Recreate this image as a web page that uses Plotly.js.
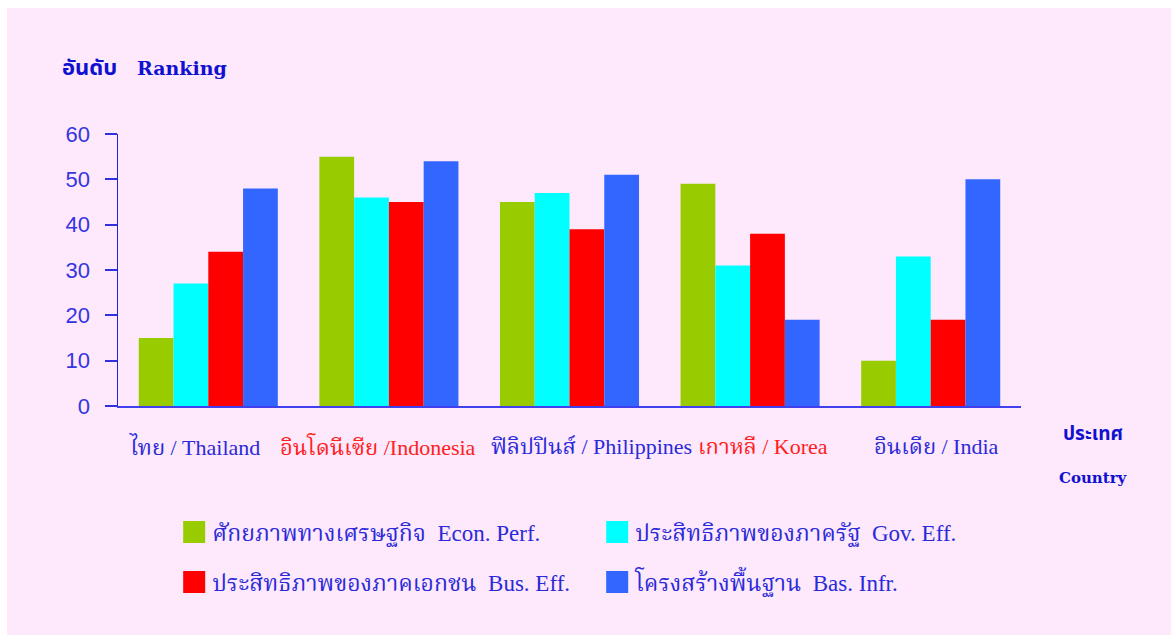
<!DOCTYPE html>
<html>
<head>
<meta charset="utf-8">
<script src="https://cdn.plot.ly/plotly-3.0.1.min.js"></script>
<style>
html,body{margin:0;padding:0;background:#ffffff;}
#wrap{position:absolute;left:0;top:0;width:1171px;height:637px;background:#ffffff;}
#chart{position:absolute;left:7px;top:8px;width:1164px;height:627px;}
</style>
</head>
<body>
<div id="wrap"><div id="chart"></div></div>
<script>
// Data
const countries = ["ไทย / Thailand", "อินโดนีเซีย /Indonesia", "ฟิลิปปินส์ / Philippines", "เกาหลี / Korea", "อินเดีย / India"];
const labelColors = ["#2a2ad8", "#ff2020", "#2a2ad8", "#ff2020", "#2a2ad8"];
const seriesNames = ["ศักยภาพทางเศรษฐกิจ  Econ. Perf.", "ประสิทธิภาพของภาครัฐ  Gov. Eff.", "ประสิทธิภาพของภาคเอกชน  Bus. Eff.", "โครงสร้างพื้นฐาน  Bas. Infr."];
const econPerf = [15, 55, 45, 49, 10];
const govEff   = [27, 46, 47, 31, 33];
const busEff   = [34, 45, 39, 38, 19];
const basInfr  = [48, 54, 51, 19, 50];
const seriesColors = ["#99cc00", "#00ffff", "#ff0000", "#3366ff"];
const yTicks = [0, 10, 20, 30, 40, 50, 60];

const values = [econPerf, govEff, busEff, basInfr];
const legendIds = ["legend", "legend", "legend2", "legend2"];
const blue = "#2a2ad8";
const thaiFont = "Liberation Serif, Noto Serif Thai, Noto Sans Thai, serif";

const traces = values.map((v, i) => ({
  type: "bar",
  x: countries,
  y: v,
  name: seriesNames[i],
  marker: {color: seriesColors[i], line: {width: 0}},
  legend: legendIds[i],
  hoverinfo: "skip"
}));

const labelShift = [-14, -11, 22, 13, 6];
const annotations = countries.map((c, i) => ({
  x: c, y: 0, xref: "x", yref: "y",
  text: c, showarrow: false,
  yanchor: "middle", yshift: -40, xshift: labelShift[i],
  font: {family: thaiFont, size: 22, color: labelColors[i]}
}));
annotations.push({
  xref: "paper", yref: "paper", x: -0.064, y: 1.245, xanchor: "left", yanchor: "middle",
  text: "<b><span style='font-size:22px'>อันดับ</span>   Ranking</b>", showarrow: false,
  font: {family: "DejaVu Serif, Noto Sans Thai, serif", size: 19, color: "#1010d0"}
});
annotations.push({
  xref: "paper", yref: "paper", x: 1.08, y: -0.1, xanchor: "center", yanchor: "middle",
  text: "<b>ประเทศ</b>", showarrow: false,
  font: {family: "DejaVu Serif, Noto Sans Thai, serif", size: 19, color: "#1010d0"}
});
annotations.push({
  xref: "paper", yref: "paper", x: 1.08, y: -0.265, xanchor: "center", yanchor: "middle",
  text: "<b>Country</b>", showarrow: false,
  font: {family: "DejaVu Serif, serif", size: 15, color: "#1010d0"}
});

const legendCommon = {
  orientation: "h", xanchor: "left", yanchor: "middle",
  entrywidth: 378, entrywidthmode: "pixels",
  bgcolor: "rgba(0,0,0,0)",
  font: {family: thaiFont, size: 23, color: blue}
};

const layout = {
  width: 1164, height: 627,
  paper_bgcolor: "#fde8fc",
  plot_bgcolor: "#fde8fc",
  margin: {l: 111, r: 150, t: 126, b: 229},
  barmode: "group",
  bargap: 0.23,
  bargroupgap: 0,
  showlegend: true,
  legend: Object.assign({x: 0.06, y: -0.463}, legendCommon),
  legend2: Object.assign({x: 0.06, y: -0.647}, legendCommon),
  xaxis: {
    showticklabels: false, ticks: "", showline: true, linecolor: "#4040ee", linewidth: 2,
    showgrid: false, zeroline: false, fixedrange: true
  },
  yaxis: {
    range: [0, 60], tickvals: yTicks, ticktext: yTicks.map(String),
    showline: true, linecolor: "#2020e0", linewidth: 1.5,
    ticks: "outside", ticklen: 12, tickcolor: "#3030e0", tickwidth: 2,
    ticklabelstandoff: 10,
    showgrid: false, zeroline: false,
    tickfont: {family: "Liberation Sans, Arial, sans-serif", size: 22, color: "#3535e0"},
    fixedrange: true
  },
  annotations: annotations
};

Plotly.newPlot("chart", traces, layout, {displayModeBar: false, staticPlot: true}).then(gd => {
  gd.querySelectorAll(".legendpoints path").forEach(p => {
    p.setAttribute("d", "M13,11H-9V-11H13Z");
  });
});
</script>
</body>
</html>
